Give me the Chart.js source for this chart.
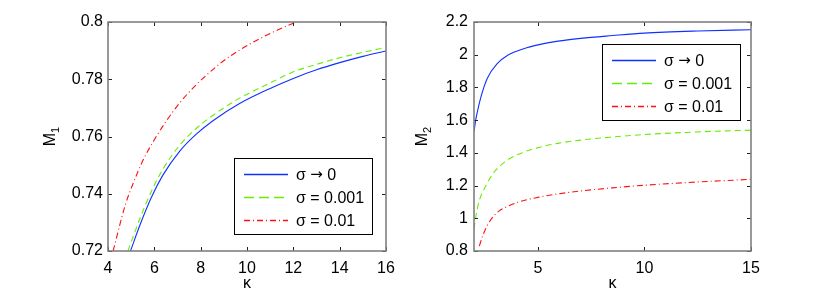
<!DOCTYPE html>
<html>
<head>
<meta charset="utf-8">
<script src="https://cdn.jsdelivr.net/npm/chart.js@4.4.1/dist/chart.umd.min.js"></script>
<style>
  body { margin: 0; background: #fff; }
  #wrap { position: relative; width: 830px; height: 294px; }
  canvas { position: absolute; top: 0; }
</style>
</head>
<body>
<div id="wrap">
  <canvas id="left" width="415" height="294" style="left:0"></canvas>
  <canvas id="right" width="415" height="294" style="left:415px"></canvas>
</div>
<script>
const seriesLabels = ['σ → 0', 'σ = 0.001', 'σ = 0.01'];

// left panel: M1 vs kappa
const kL_blue  = [4.97, 5.4, 5.87, 6.37, 7.09, 7.81, 8.53, 9.68, 11, 12, 13, 14, 15, 16];
const mL_blue  = [0.72, 0.7295, 0.7387, 0.7465, 0.7548, 0.7608, 0.7655, 0.7715, 0.7768, 0.7803, 0.7833, 0.7858, 0.788, 0.7899];
const kL_green = [4.86, 5.4, 5.87, 6.37, 7.09, 7.81, 8.53, 9.68, 11, 12, 13, 14, 15, 16];
const mL_green = [0.72, 0.7318, 0.7408, 0.7486, 0.7569, 0.7628, 0.7674, 0.7734, 0.7787, 0.7826, 0.7852, 0.7875, 0.7894, 0.7911];
const kL_red   = [4.22, 4.75, 5.08, 5.5, 6.01, 6.5, 7.09, 7.74, 8.81, 9.68, 11, 12.12, 12.6];
const mL_red   = [0.72, 0.7362, 0.7435, 0.7515, 0.759, 0.7652, 0.7717, 0.7775, 0.7853, 0.7902, 0.796, 0.8, 0.8017];

// right panel: M2 vs kappa
const kR_blue  = [2, 2.1, 2.2, 2.31, 2.62, 3.09, 3.6, 4.34, 5, 5.94, 7, 8.5, 10, 12.5, 15];
const mR_blue  = [1.53, 1.615, 1.675, 1.735, 1.855, 1.945, 1.998, 2.037, 2.06, 2.083, 2.1, 2.117, 2.132, 2.145, 2.153];
const kR_green = [2, 2.1, 2.23, 2.54, 2.93, 3.56, 4.34, 5, 5.94, 7, 8.5, 10, 12.5, 15];
const mR_green = [0.935, 1.02, 1.1, 1.195, 1.28, 1.355, 1.405, 1.432, 1.458, 1.478, 1.497, 1.512, 1.528, 1.539];
const kR_red   = [2.25, 2.4, 2.62, 2.95, 3.15, 3.4, 4.06, 5, 5.94, 7, 8.5, 10, 12.5, 15];
const mR_red   = [0.83, 0.89, 0.955, 1.018, 1.042, 1.062, 1.098, 1.128, 1.149, 1.167, 1.186, 1.202, 1.222, 1.238];

const xTicksRight = [5, 10, 15];

const FONT = '"Liberation Sans", Arial, Helvetica, sans-serif';
Chart.defaults.font.family = FONT;
Chart.defaults.font.size = 16;
Chart.defaults.color = '#000';

const pts = (xs, ys) => xs.map((x, i) => ({ x: x, y: ys[i] }));
const fmt = v => String(+(+v).toFixed(2));

// legend text: the arrow is drawn with DejaVu so it is as wide as in the original
function drawLabel(ctx, text, x, y) {
  const parts = text.split('→');
  let cx = x;
  parts.forEach((p, i) => {
    ctx.font = '16px ' + FONT;
    ctx.fillText(p, cx, y);
    cx += ctx.measureText(p).width;
    if (i < parts.length - 1) {
      ctx.font = '15px "DejaVu Sans"';
      ctx.fillText('→', cx, y);
      cx += ctx.measureText('→').width;
    }
  });
  ctx.font = '16px ' + FONT;
}

// box, inward ticks, legend and axis titles, MATLAB style
const frame = {
  id: 'frame',
  afterDraw(chart, args, o) {
    const { ctx, chartArea: a, scales: { x, y } } = chart;
    ctx.save();
    ctx.strokeStyle = '#222';
    ctx.lineWidth = 1;
    ctx.beginPath();
    x.ticks.forEach(t => {
      const p = Math.round(x.getPixelForValue(t.value)) + 0.5;
      ctx.moveTo(p, a.bottom); ctx.lineTo(p, a.bottom - 4);
      ctx.moveTo(p, a.top); ctx.lineTo(p, a.top + 4);
    });
    y.ticks.forEach(t => {
      const p = Math.round(y.getPixelForValue(t.value)) + 0.5;
      ctx.moveTo(a.left, p); ctx.lineTo(a.left + 4, p);
      ctx.moveTo(a.right, p); ctx.lineTo(a.right - 4, p);
    });
    ctx.stroke();
    ctx.strokeStyle = '#808080';
    ctx.lineWidth = 1.6;
    ctx.strokeRect(a.left, a.top, a.width, a.height);

    // legend
    const lg = o.legend;
    ctx.font = '16px ' + FONT;
    const ds = chart.data.datasets;
    const tw = Math.max(...ds.map(d => ctx.measureText(d.label).width));
    const w = Math.round(62 + tw + 8), h = 76;
    const bx = Math.round(a.right - lg.right - w);
    const by = Math.round(lg.top != null ? a.top + lg.top : a.bottom - lg.bottom - h);
    ctx.fillStyle = '#fff';
    ctx.fillRect(bx, by, w, h);
    ctx.strokeStyle = '#000';
    ctx.lineWidth = 1;
    ctx.strokeRect(bx + 0.5, by + 0.5, w, h);
    ds.forEach((d, i) => {
      const yy = Math.round(by + 16 + i * 23) + 0.5;
      ctx.strokeStyle = d.borderColor;
      ctx.lineWidth = 1.4;
      ctx.setLineDash(d.legendDash);
      ctx.beginPath();
      ctx.moveTo(bx + 10, yy); ctx.lineTo(bx + 54, yy);
      ctx.stroke();
      ctx.setLineDash([]);
      ctx.fillStyle = '#000';
      ctx.textBaseline = 'middle';
      ctx.textAlign = 'left';
      drawLabel(ctx, d.label, bx + 62, yy + 1);
    });

    // x title
    ctx.textAlign = 'center';
    ctx.textBaseline = 'middle';
    ctx.font = '16px ' + FONT;
    ctx.fillText(o.xTitle, (a.left + a.right) / 2, 284);

    // y title with subscript
    ctx.save();
    ctx.translate(o.yTitleX, (a.top + a.bottom) / 2);
    ctx.rotate(-Math.PI / 2);
    ctx.textAlign = 'left';
    ctx.textBaseline = 'alphabetic';
    ctx.font = '16px ' + FONT;
    const wm = ctx.measureText(o.yTitle).width;
    ctx.font = '11px ' + FONT;
    const ws = ctx.measureText(o.ySub).width;
    ctx.font = '16px ' + FONT;
    ctx.fillText(o.yTitle, -(wm + ws) / 2, 0);
    ctx.font = '11px ' + FONT;
    ctx.fillText(o.ySub, -(wm + ws) / 2 + wm, 4);
    ctx.restore();
    ctx.restore();
  }
};

function makeSets(kb, mb, kg, mg, kr, mr) {
  return [
    { label: seriesLabels[0], data: pts(kb, mb), borderColor: '#1030ff', borderWidth: 1.1, borderDash: [], legendDash: [] },
    { label: seriesLabels[1], data: pts(kg, mg), borderColor: '#66ee00', borderWidth: 1.1, borderDash: [6, 4], legendDash: [10, 5] },
    { label: seriesLabels[2], data: pts(kr, mr), borderColor: '#ff1010', borderWidth: 1.1, borderDash: [6, 3, 1, 3], legendDash: [6, 3, 1, 3] }
  ];
}

function panel(id, sets, xOpt, yOpt, padRight, yWidth, extra) {
  new Chart(document.getElementById(id), {
    type: 'line',
    data: { datasets: sets },
    options: {
      responsive: false,
      animation: false,
      layout: { padding: { left: 0, top: 22, right: padRight, bottom: 0 } },
      elements: { point: { radius: 0 }, line: { cubicInterpolationMode: 'monotone', fill: false } },
      plugins: { legend: { display: false }, tooltip: { enabled: false }, frame: extra },
      scales: {
        x: Object.assign({
          type: 'linear',
          border: { display: false },
          grid: { display: false, drawTicks: false },
          ticks: { padding: 8, maxRotation: 0, callback: fmt },
          afterFit: s => { s.height = 43; }
        }, xOpt),
        y: Object.assign({
          type: 'linear',
          border: { display: false },
          grid: { display: false, drawTicks: false },
          ticks: { padding: 5, callback: fmt },
          afterFit: s => { s.width = yWidth; }
        }, yOpt)
      }
    },
    plugins: [frame]
  });
}

panel('left',
  makeSets(kL_blue, mL_blue, kL_green, mL_green, kL_red, mL_red),
  { min: 4, max: 16, ticks: { padding: 8, maxRotation: 0, stepSize: 2, callback: fmt } },
  { min: 0.72, max: 0.8, ticks: { padding: 5, stepSize: 0.02, callback: fmt } },
  29, 108,
  { legend: { right: 14, bottom: 17 }, xTitle: 'κ', yTitle: 'M', ySub: '1', yTitleX: 55 });

panel('right',
  makeSets(kR_blue, mR_blue, kR_green, mR_green, kR_red, mR_red),
  { min: 2, max: 15, afterBuildTicks: s => { s.ticks = xTicksRight.map(v => ({ value: v })); } },
  { min: 0.8, max: 2.2, ticks: { padding: 6, stepSize: 0.2, callback: fmt } },
  79, 59,
  { legend: { right: 11, top: 22 }, xTitle: 'κ', yTitle: 'M', ySub: '2', yTitleX: 12 });
</script>
</body>
</html>
